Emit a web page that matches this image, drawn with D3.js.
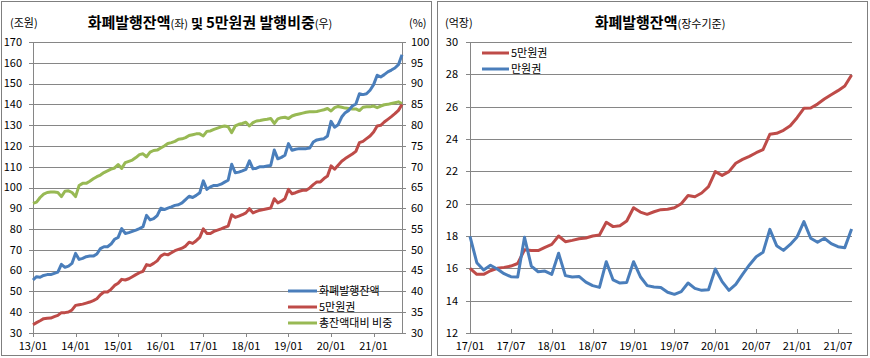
<!DOCTYPE html>
<html><head><meta charset="utf-8">
<script src="https://cdn.jsdelivr.net/npm/d3@7"></script>
<style>
body{margin:0;background:#fff;}
svg{display:block;font-family:"Noto Sans CJK KR","Noto Sans",sans-serif;}
</style></head>
<body><svg id="c" width="870" height="358"></svg>
<script>
// ---------- Left chart data (monthly, 13/01 .. 21/09) ----------
const leftStart = [2013, 1];
const leftCount = 105;
const leftTicks = ["13/01","14/01","15/01","16/01","17/01","18/01","19/01","20/01","21/01"];
const leftYTicks = [30,40,50,60,70,80,90,100,110,120,130,140,150,160,170];
const rightYTicksPct = [30,35,40,45,50,55,60,65,70,75,80,85,90,95,100];
const totalBalance = [55.5,57.1,56.8,57.7,58.1,58.1,58.7,59.3,63.0,61.6,
 62.2,63.5,68.3,65.4,65.9,66.7,67.0,67.0,68.0,70.6,
 71.5,71.5,72.8,75.1,76.0,80.2,77.9,78.3,78.9,79.5,
 80.2,81.1,86.6,84.4,85.0,86.5,90.0,89.4,90.1,90.7,
 91.4,91.7,92.6,94.2,95.8,95.2,96.2,97.5,103.2,99.1,
 100.3,101.0,101.0,101.6,102.6,103.5,111.2,107.1,107.4,108.0,
 108.7,112.8,109.0,109.3,110.0,110.0,110.3,110.6,118.0,113.8,
 114.5,115.5,121.1,117.9,118.4,118.7,118.7,118.7,119.0,121.9,
 122.9,123.2,123.5,124.8,131.8,129.0,130.2,133.9,136.0,137.1,
 139.2,140.2,145.1,144.7,145.1,146.8,149.5,154.0,153.2,154.3,
 155.6,156.5,157.5,159.1,163.9];
const note50k = [34.0,35.0,35.9,36.9,37.1,37.2,37.9,38.5,39.8,39.8,
 40.1,41.1,43.3,43.6,43.9,44.4,44.9,45.6,46.5,48.4,
 49.7,49.7,51.0,52.9,53.9,55.8,55.5,56.1,57.1,58.1,
 59.0,59.7,62.9,62.5,63.5,64.7,67.0,68.0,67.6,68.6,
 69.6,70.2,70.8,71.8,73.7,73.1,74.4,76.0,80.1,77.9,
 77.9,78.9,79.5,80.1,80.8,81.4,86.9,85.6,86.2,86.9,
 87.8,89.8,87.8,88.5,89.1,89.4,89.8,90.1,94.6,92.6,
 93.4,94.6,99.1,97.0,97.5,98.2,98.7,98.7,99.8,101.4,
 102.7,102.7,104.3,105.5,110.4,108.8,110.7,112.6,113.9,115.0,
 116.1,117.4,121.6,122.2,123.5,124.8,126.7,129.6,129.9,131.5,
 132.8,134.1,135.5,137.1,139.9];
const sharePct = [61.2,61.5,62.6,63.4,63.8,63.9,63.9,63.8,62.8,64.1,
 64.2,63.8,62.8,65.5,66.0,66.0,66.5,67.1,67.6,68.0,
 68.6,69.0,69.4,69.7,70.5,69.6,71.0,71.3,71.6,72.2,
 72.9,73.1,72.4,73.5,73.9,74.0,74.5,75.0,75.6,75.8,
 76.1,76.6,76.7,77.0,77.5,77.7,77.9,77.9,77.4,78.5,
 78.6,79.0,79.3,79.6,79.8,79.6,78.2,79.8,80.2,80.4,
 80.7,79.8,80.6,81.0,81.1,81.3,81.4,81.6,80.4,81.5,
 81.8,81.9,81.6,82.2,82.5,82.7,82.9,83.1,83.2,83.2,
 83.3,83.5,83.7,84.0,83.4,84.2,84.5,84.3,84.1,84.0,
 83.9,83.9,83.5,84.3,84.4,84.4,84.6,84.2,84.6,84.9,
 85.0,85.2,85.4,85.6,85.2];

// ---------- Right chart data (monthly, 17/01 .. 21/09), 억장 ----------
const rightStart = [2017, 1];
const rightCount = 57;
const rightTicks = ["17/01","17/07","18/01","18/07","19/01","19/07","20/01","20/07","21/01","21/07"];
const rYTicks = [12,14,16,18,20,22,24,26,28,30];
const pieces50k = [16.0,15.63,15.63,15.85,16.0,16.06,16.14,16.3,17.15,17.1,
 17.1,17.3,17.48,18.0,17.65,17.73,17.83,17.88,18.0,18.06,
 18.85,18.58,18.64,18.93,19.75,19.48,19.34,19.5,19.63,19.65,
 19.75,20.0,20.5,20.43,20.66,21.05,21.98,21.75,21.98,22.5,
 22.74,22.93,23.15,23.34,24.29,24.35,24.54,24.82,25.32,25.9,
 25.92,26.16,26.47,26.74,26.99,27.28,27.96];
const pieces10k = [17.98,16.35,15.9,16.19,15.96,15.67,15.48,15.46,17.92,16.14,
 15.79,15.83,15.63,16.93,15.55,15.46,15.5,15.15,14.93,14.82,
 16.41,15.28,15.09,15.13,16.41,15.48,14.93,14.85,14.82,14.52,
 14.39,14.56,15.09,14.76,14.64,14.68,15.96,15.18,14.64,15.01,
 15.63,16.21,16.72,16.99,18.41,17.4,17.11,17.48,17.94,18.89,
 17.86,17.61,17.86,17.53,17.34,17.28,18.43];

const colors = {blue:"#4A7EBB", red:"#BE4B48", green:"#98B954", grid:"#868686", border:"#7F7F7F", text:"#000"};

function monthLabels(start, n){
  const out=[]; let [y,m]=start;
  for(let i=0;i<n;i++){ out.push(String(y%100).padStart(2,"0")+"/"+String(m).padStart(2,"0")); m++; if(m>12){m=1;y++;} }
  return out;
}
const leftCats = monthLabels(leftStart, leftCount);
const rightCats = monthLabels(rightStart, rightCount);

const svg = d3.select("#c");
svg.append("rect").attr("x",0).attr("y",0).attr("width",870).attr("height",358).attr("fill","#fff");

// panel borders
svg.append("rect").attr("x",1.5).attr("y",1.5).attr("width",430).attr("height",354).attr("fill","none").attr("stroke",colors.border);
svg.append("rect").attr("x",437.5).attr("y",1.5).attr("width",430).attr("height",354).attr("fill","none").attr("stroke",colors.border);

// ================= LEFT =================
(function(){
  const g = svg.append("g");
  const x = d3.scalePoint().domain(leftCats).range([33,402]);
  const yL = d3.scaleLinear().domain([30,170]).range([333,42]);
  const yR = d3.scaleLinear().domain([30,100]).range([333,42]);

  g.append("g").selectAll("line").data(leftYTicks).join("line")
    .attr("x1",29).attr("x2",406).attr("y1",d=>Math.round(yL(d))+0.5).attr("y2",d=>Math.round(yL(d))+0.5)
    .attr("stroke",colors.grid).attr("stroke-width",1);
  g.append("line").attr("x1",33.5).attr("x2",33.5).attr("y1",42).attr("y2",333).attr("stroke",colors.grid);
  g.append("line").attr("x1",402.5).attr("x2",402.5).attr("y1",42).attr("y2",333).attr("stroke",colors.grid);
  g.append("g").selectAll("line").data(leftTicks).join("line")
    .attr("x1",d=>Math.round(x(d))+0.5).attr("x2",d=>Math.round(x(d))+0.5).attr("y1",333).attr("y2",337)
    .attr("stroke",colors.grid);
  g.append("g").selectAll("text").data(leftYTicks).join("text")
    .attr("x",22).attr("y",d=>yL(d)).attr("dy","0.35em").attr("text-anchor","end")
    .attr("font-size",11).text(d=>d);
  g.append("g").selectAll("text").data(rightYTicksPct).join("text")
    .attr("x",411).attr("y",d=>yR(d)).attr("dy","0.35em").attr("text-anchor","start")
    .attr("font-size",11).text(d=>d);
  g.append("g").selectAll("text").data(leftTicks).join("text")
    .attr("x",d=>x(d)).attr("y",350).attr("text-anchor","middle").attr("font-size",11).text(d=>d);

  const line = (ys, scale)=> d3.line().x((d,i)=>x(leftCats[i])).y(d=>scale(d))(ys);
  g.append("path").attr("d",line(sharePct,yR)).attr("fill","none").attr("stroke",colors.green).attr("stroke-width",3).attr("stroke-linejoin","round");
  g.append("path").attr("d",line(note50k,yL)).attr("fill","none").attr("stroke",colors.red).attr("stroke-width",3).attr("stroke-linejoin","round");
  g.append("path").attr("d",line(totalBalance,yL)).attr("fill","none").attr("stroke",colors.blue).attr("stroke-width",3).attr("stroke-linejoin","round");

  g.append("text").attr("x",10).attr("y",27).attr("font-size",11).text("(조원)");
  g.append("text").attr("x",409).attr("y",27).attr("font-size",11).text("(%)");
  const t = g.append("text").attr("x",210).attr("y",28).attr("text-anchor","middle");
  t.append("tspan").attr("font-size",15).attr("font-weight","bold").text("화폐발행잔액");
  t.append("tspan").attr("font-size",11).text("(좌)");
  t.append("tspan").attr("font-size",13).attr("font-weight","bold").text(" 및 ");
  t.append("tspan").attr("font-size",15).attr("font-weight","bold").text("5만원권 발행비중");
  t.append("tspan").attr("font-size",11).text("(우)");

  const leg = [["화폐발행잔액",colors.blue],["5만원권",colors.red],["총잔액대비 비중",colors.green]];
  const lg = g.append("g").selectAll("g").data(leg).join("g").attr("transform",(d,i)=>`translate(288,${291+i*16})`);
  lg.append("line").attr("x1",0).attr("x2",29).attr("stroke",d=>d[1]).attr("stroke-width",3);
  lg.append("text").attr("x",31).attr("dy","0.38em").attr("font-size",11).text(d=>d[0]);
})();

// ================= RIGHT =================
(function(){
  const g = svg.append("g");
  const x = d3.scalePoint().domain(rightCats).range([470,851.6]);
  const y = d3.scaleLinear().domain([12,30]).range([333,42]);

  g.append("g").selectAll("line").data(rYTicks).join("line")
    .attr("x1",466).attr("x2",852).attr("y1",d=>Math.round(y(d))+0.5).attr("y2",d=>Math.round(y(d))+0.5)
    .attr("stroke",colors.grid);
  g.append("line").attr("x1",470.5).attr("x2",470.5).attr("y1",42).attr("y2",333).attr("stroke",colors.grid);
  g.append("g").selectAll("line").data(rightTicks).join("line")
    .attr("x1",d=>Math.round(x(d))+0.5).attr("x2",d=>Math.round(x(d))+0.5).attr("y1",329).attr("y2",333)
    .attr("stroke",colors.grid);
  g.append("g").selectAll("text").data(rYTicks).join("text")
    .attr("x",458).attr("y",d=>y(d)).attr("dy","0.35em").attr("text-anchor","end").attr("font-size",11).text(d=>d);
  g.append("g").selectAll("text").data(rightTicks).join("text")
    .attr("x",d=>x(d)).attr("y",350).attr("text-anchor","middle").attr("font-size",11).text(d=>d);

  const line = ys => d3.line().x((d,i)=>x(rightCats[i])).y(d=>y(d))(ys);
  g.append("path").attr("d",line(pieces50k)).attr("fill","none").attr("stroke",colors.red).attr("stroke-width",3).attr("stroke-linejoin","round");
  g.append("path").attr("d",line(pieces10k)).attr("fill","none").attr("stroke",colors.blue).attr("stroke-width",3).attr("stroke-linejoin","round");

  g.append("text").attr("x",445).attr("y",27).attr("font-size",11).text("(억장)");
  const t = g.append("text").attr("x",660).attr("y",28).attr("text-anchor","middle");
  t.append("tspan").attr("font-size",15).attr("font-weight","bold").text("화폐발행잔액");
  t.append("tspan").attr("font-size",11).text("(장수기준)");

  const leg = [["5만원권",colors.red],["만원권",colors.blue]];
  const lg = g.append("g").selectAll("g").data(leg).join("g").attr("transform",(d,i)=>`translate(482,${53+i*16})`);
  lg.append("line").attr("x1",0).attr("x2",27).attr("stroke",d=>d[1]).attr("stroke-width",3);
  lg.append("text").attr("x",29).attr("dy","0.38em").attr("font-size",11).text(d=>d[0]);
})();
</script></body></html>
